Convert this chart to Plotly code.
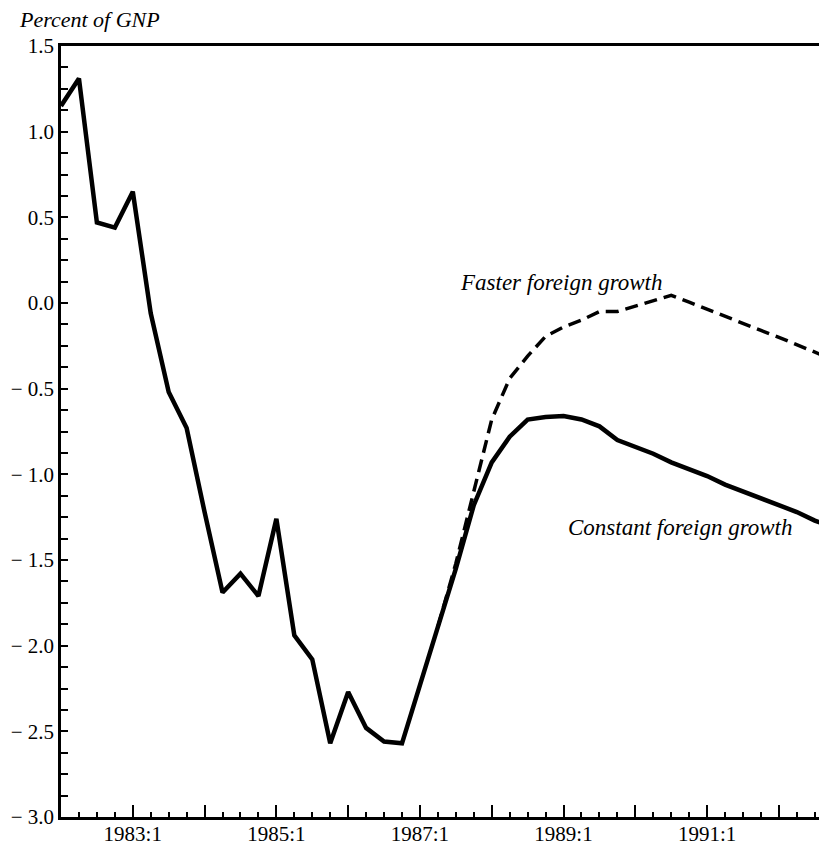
import plotly.graph_objects as go

# Quarterly periods starting 1982:1
years = list(range(1982, 1993))
quarters = [f"{y}:{q}" for y in years for q in (1, 2, 3, 4)]

constant_growth = [
    1.15, 1.31, 0.47, 0.44, 0.65, -0.06, -0.52, -0.73, -1.22, -1.69,
    -1.58, -1.71, -1.26, -1.94, -2.08, -2.57, -2.27, -2.48, -2.56, -2.57,
    -2.23, -1.89, -1.55, -1.18, -0.93, -0.78, -0.68, -0.665, -0.66, -0.68,
    -0.72, -0.80, -0.84, -0.88, -0.93, -0.97, -1.01, -1.06, -1.10, -1.14,
    -1.18, -1.22, -1.27, -1.31,
]
faster_start = 21
faster_growth = [
    -1.89, -1.52, -1.10, -0.68, -0.44, -0.31, -0.195, -0.14, -0.10, -0.05,
    -0.05, -0.02, 0.01, 0.045, 0.005, -0.037, -0.08, -0.12, -0.16, -0.20,
    -0.245, -0.29, -0.33,
]

x_tick_labels = ["", "1983:1", "", "1985:1", "", "1987:1", "", "1989:1", "", "1991:1", ""]
y_tick_values = [-3.0, -2.5, -2.0, -1.5, -1.0, -0.5, 0.0, 0.5, 1.0, 1.5]
y_tick_labels = ["\u2212 3.0", "\u2212 2.5", "\u2212 2.0", "\u2212 1.5", "\u2212 1.0",
                 "\u2212 0.5", "0.0", "0.5", "1.0", "1.5"]

x_const = list(range(len(constant_growth)))
x_fast = list(range(faster_start, faster_start + len(faster_growth)))

FONT = "Liberation Serif"

fig = go.Figure()
fig.add_trace(go.Scatter(
    x=x_const, y=constant_growth, mode="lines",
    line=dict(color="black", width=4.5), name="Constant foreign growth",
    hovertext=[quarters[i] for i in x_const],
))
fig.add_trace(go.Scatter(
    x=x_fast, y=faster_growth, mode="lines",
    line=dict(color="black", width=3.5, dash="13px,7px"), name="Faster foreign growth",
    hovertext=[quarters[i] for i in x_fast],
))

fig.update_layout(
    width=819, height=839,
    margin=dict(l=53, r=0, t=38, b=30),
    paper_bgcolor="white", plot_bgcolor="white",
    showlegend=False,
    font=dict(family=FONT, size=20, color="black"),
    xaxis=dict(
        range=[0, 42.68],
        tickmode="array",
        tickvals=[4 * k for k in range(len(x_tick_labels))],
        ticktext=x_tick_labels,
        ticks="inside", ticklen=12, tickwidth=2, tickcolor="black",
        ticklabelstandoff=-4,
        showline=True, linecolor="black", linewidth=2.5, mirror=True,
        showgrid=False, zeroline=False,
        minor=dict(ticks="inside", dtick=1, tick0=0, ticklen=5, tickwidth=2,
                   tickcolor="black", showgrid=False),
        tickfont=dict(family=FONT, size=21),
    ),
    yaxis=dict(
        range=[-3.0, 1.5],
        tickmode="array",
        tickvals=y_tick_values,
        ticktext=y_tick_labels,
        ticks="inside", ticklen=7, tickwidth=2, tickcolor="black",
        showline=True, linecolor="black", linewidth=2.5,
        showgrid=False, zeroline=False,
        minor=dict(ticks="inside", dtick=0.125, tick0=0, ticklen=7, tickwidth=2,
                   tickcolor="black", showgrid=False),
        tickfont=dict(family=FONT, size=21),
    ),
    annotations=[
        dict(text="<i>Percent of GNP</i>", xref="paper", yref="paper",
             x=-44 / 766, y=1.0, yshift=12, xanchor="left", yanchor="bottom",
             showarrow=False, font=dict(family=FONT, size=22)),
        dict(text="<i>Faster foreign growth</i>", x=22.1, y=0.12,
             xanchor="left", yanchor="middle", showarrow=False,
             font=dict(family=FONT, size=23)),
        dict(text="<i>Constant foreign growth</i>", x=28.15, y=-1.31,
             xanchor="left", yanchor="middle", showarrow=False,
             font=dict(family=FONT, size=23)),
    ],
)

fig.write_html("out.html")
